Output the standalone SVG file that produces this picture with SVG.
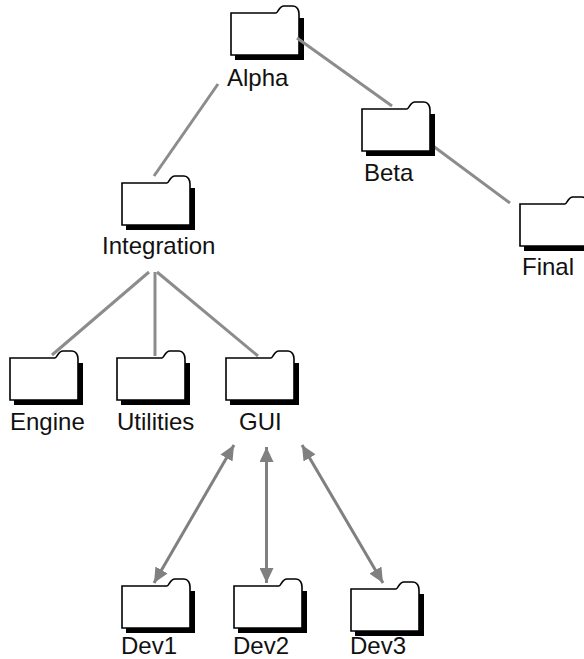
<svg xmlns="http://www.w3.org/2000/svg" width="584" height="659" viewBox="0 0 584 659">
<style>
text{font-family:"Liberation Sans",Arial,sans-serif;font-size:24px;fill:#111}
.c{stroke:#8c8c8c;stroke-width:3;fill:none}
.a{stroke:#808080;stroke-width:3;fill:none;marker-start:url(#h);marker-end:url(#h)}
.s{fill:#000}
.f{fill:#fff;stroke:#000;stroke-width:1.6}
</style>
<defs>
<marker id="h" markerUnits="userSpaceOnUse" markerWidth="16" markerHeight="14" refX="15" refY="7" orient="auto-start-reverse"><path d="M0 0L15 7L0 14Z" fill="#808080"/></marker>
<g id="folder">
<path class="s" d="M4 5H73V47H4Z"/>
<path class="f" d="M0 0H45C47 0 48 -7 53 -7H62C66 -7 68 -3 68 1V42H0Z"/>
</g>
</defs>
<g id="alpha"><use href="#folder" x="231" y="13"/><text x="227" y="86">Alpha</text></g>
<g id="connectors">
<path class="c" d="M297 38L392 106"/>
<path class="c" d="M218 84L154 176"/>
<path class="c" d="M425 140L510 203"/>
<path class="c" d="M149 272L52 355"/>
<path class="c" d="M155 272V356"/>
<path class="c" d="M157 272L258 356"/>
<path class="a" d="M234 445L154 583"/>
<path class="a" d="M266.500 447V583"/>
<path class="a" d="M302 445L383 583"/>
</g>
<g id="beta"><use href="#folder" x="362" y="109"/><text x="364" y="181">Beta</text></g>
<g id="final"><use href="#folder" x="520" y="204"/><text x="522" y="275">Final</text></g>
<g id="integration"><use href="#folder" x="122" y="183"/><text x="102" y="254">Integration</text></g>
<g id="engine"><use href="#folder" x="10" y="358"/><text x="10" y="430">Engine</text></g>
<g id="utilities"><use href="#folder" x="117" y="358"/><text x="117" y="430">Utilities</text></g>
<g id="gui"><use href="#folder" x="226" y="358"/><text x="239" y="430">GUI</text></g>
<g id="dev1"><use href="#folder" x="122" y="586"/><text x="121" y="654">Dev1</text></g>
<g id="dev2"><use href="#folder" x="234" y="586"/><text x="233" y="654">Dev2</text></g>
<g id="dev3"><use href="#folder" x="351" y="589"/><text x="350" y="654">Dev3</text></g>
</svg>
